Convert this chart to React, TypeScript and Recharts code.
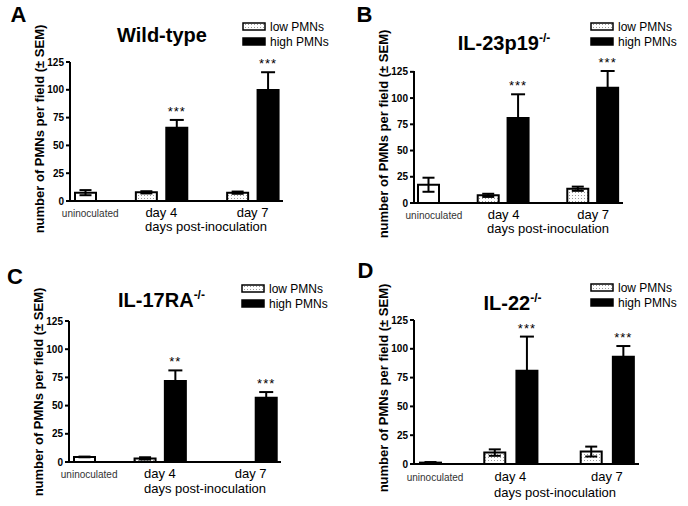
import React from 'react';
import { BarChart, Bar, XAxis, YAxis, ErrorBar, Cell, LabelList } from 'recharts';

const groups = ['uninoculated', 'day 4', 'day 7'];
const yTicks = [0, 25, 50, 75, 100, 125];

// A - wild-type
const wtLow = [7.5, 7.8, 7.5];
const wtLowErr = [2.3, 1, 1];
const wtHigh = [null, 65.9, 99.8];
const wtHighErr = [null, 7, 16];
const wtSig = ['', '***', '***'];

// B - IL-23p19 -/-
const il23Low = [17.4, 7.3, 13.6];
const il23LowErr = [6.7, 1.5, 2];
const il23High = [null, 80.9, 109.8];
const il23HighErr = [null, 22.7, 16];
const il23Sig = ['', '***', '***'];

// C - IL-17RA -/-
const il17Low = [4.5, 3.2, null];
const il17LowErr = [0.3, 1, null];
const il17High = [null, 71.8, 57];
const il17HighErr = [null, 9.4, 5];
const il17Sig = ['', '**', '***'];

// D - IL-22 -/-
const il22Low = [1.2, 9.9, 10.8];
const il22LowErr = [0.5, 2.8, 4.3];
const il22High = [null, 81, 93.2];
const il22HighErr = [null, 29.6, 9.2];
const il22Sig = ['', '***', '***'];

const FONT = '"Liberation Sans", Arial, sans-serif';

// one slot per column, with empty slots between the groups
function buildSlots(low, lowErr, high, highErr, sig) {
  const rows = [];
  groups.forEach((g, i) => {
    if (i > 0) rows.push({ slot: 'gap' + i });
    rows.push({ slot: g + ' low', uninoc: i === 0, low: low[i], lowErr: lowErr[i] });
    if (i > 0) {
      rows.push({
        slot: g + ' high',
        high: high[i],
        highErr: highErr[i],
        star: sig[i] ? high[i] + highErr[i] : null,
        sig: sig[i],
      });
    }
  });
  return rows;
}

const panels = [
  {
    id: 'a', letter: 'A', title: 'Wild-type', sup: '', left: 0, top: 0,
    margin: { top: 62, right: 61, bottom: 22, left: 20 },
    rows: buildSlots(wtLow, wtLowErr, wtHigh, wtHighErr, wtSig),
    tickDy: 11,
    letterPos: [18.5, 14.5], titlePos: [162, 35], legendPos: [242, 22],
    yLabelPos: [39, 129], xLabelPos: [206, 226],
  },
  {
    id: 'b', letter: 'B', title: 'IL-23p19', sup: '-/-', left: 344, top: 0,
    margin: { top: 71, right: 65, bottom: 20, left: 20 },
    rows: buildSlots(il23Low, il23LowErr, il23High, il23HighErr, il23Sig),
    tickDy: 11,
    letterPos: [20.5, 14.5], titlePos: [160, 43], legendPos: [246, 21.5],
    yLabelPos: [39, 133.5], xLabelPos: [204, 228],
  },
  {
    id: 'c', letter: 'C', title: 'IL-17RA', sup: '-/-', left: 0, top: 253,
    margin: { top: 68, right: 63, bottom: 14, left: 19 },
    rows: buildSlots(il17Low, il17LowErr, il17High, il17HighErr, il17Sig),
    tickDy: 11,
    letterPos: [15, 23.5], titlePos: [161.5, 46.7], legendPos: [241, 30.5],
    yLabelPos: [38, 139], xLabelPos: [205, 234.5],
  },
  {
    id: 'd', letter: 'D', title: 'IL-22', sup: '-/-', left: 344, top: 253,
    margin: { top: 67, right: 49, bottom: 12, left: 20 },
    rows: buildSlots(il22Low, il22LowErr, il22High, il22HighErr, il22Sig),
    tickDy: 12.5,
    letterPos: [21.5, 17.5], titlePos: [168.5, 50], legendPos: [246, 29.5],
    yLabelPos: [39, 135], xLabelPos: [211, 238.5],
  },
];

const W = 344;
const H = 253;
const Y_AXIS_W = 50;

function Dots({ id }) {
  return (
    <pattern id={id} width="3" height="3" patternUnits="userSpaceOnUse">
      <rect width="3" height="3" fill="#fff" />
      <rect width="1" height="1" fill="#9a9a9a" />
    </pattern>
  );
}

function centered(x, y, extra = {}) {
  return {
    position: 'absolute',
    left: x,
    top: y,
    transform: 'translate(-50%, -50%)',
    whiteSpace: 'nowrap',
    lineHeight: 1,
    fontFamily: FONT,
    color: '#000',
    ...extra,
  };
}

function Panel({ p }) {
  const plotW = W - p.margin.left - Y_AXIS_W - p.margin.right;
  const plotBottom = H - p.margin.bottom - 30;
  const band = plotW / p.rows.length;

  const renderTick = (props) => {
    const { x, payload } = props;
    const v = payload.value;
    if (v === 'uninoculated low') {
      return (
        <text x={x + 5} y={plotBottom + p.tickDy + 1} textAnchor="middle" dominantBaseline="central" fontSize={10} fill="#333" fontFamily={FONT}>
          uninoculated
        </text>
      );
    }
    if (v.endsWith(' low')) {
      return (
        <text x={x + band / 2} y={plotBottom + p.tickDy} textAnchor="middle" dominantBaseline="central" fontSize={13} fill="#000" fontFamily={FONT}>
          {v.replace(' low', '')}
        </text>
      );
    }
    return <g />;
  };

  const renderStar = (props) => {
    const { x, y, width, value } = props;
    if (!value) return null;
    return (
      <text x={x + width / 2} y={y - 4} textAnchor="middle" fontSize={13} letterSpacing={1} fill="#000" fontFamily={FONT}>
        {value}
      </text>
    );
  };

  return (
    <div style={{ position: 'absolute', left: p.left, top: p.top, width: W, height: H }}>
      <BarChart width={W} height={H} data={p.rows} margin={p.margin}>
        <defs>
          <Dots id={'dots-' + p.id} />
        </defs>
        <XAxis
          dataKey="slot"
          height={30}
          axisLine={{ stroke: '#000', strokeWidth: 2 }}
          tickLine={false}
          tickSize={0}
          tick={renderTick}
          interval={0}
        />
        <XAxis xAxisId="h" dataKey="slot" hide />
        <XAxis xAxisId="s" dataKey="slot" hide />
        <YAxis
          width={Y_AXIS_W}
          domain={[0, 125]}
          ticks={yTicks}
          interval={0}
          axisLine={{ stroke: '#000', strokeWidth: 2 }}
          tickLine={{ stroke: '#000', strokeWidth: 2 }}
          tickSize={4}
          tickMargin={2}
          tick={{ fontSize: 10, fontWeight: 'bold', fill: '#000', fontFamily: FONT }}
        />
        <Bar dataKey="low" barSize={21} stroke="#000" strokeWidth={2} isAnimationActive={false}>
          {p.rows.map((r, i) => (
            <Cell key={i} fill={r.uninoc ? '#fff' : `url(#dots-${p.id})`} />
          ))}
          <ErrorBar dataKey="lowErr" width={6} stroke="#000" strokeWidth={2} direction="y" />
        </Bar>
        <Bar xAxisId="h" dataKey="high" barSize={21} fill="#000" stroke="#000" strokeWidth={2} isAnimationActive={false}>
          <ErrorBar dataKey="highErr" width={7} stroke="#000" strokeWidth={2} direction="y" />
        </Bar>
        <Bar xAxisId="s" dataKey="star" barSize={21} fill="none" stroke="none" isAnimationActive={false}>
          <LabelList dataKey="sig" content={renderStar} />
        </Bar>
      </BarChart>

      <div style={centered(p.letterPos[0], p.letterPos[1], { fontSize: 22, fontWeight: 'bold' })}>{p.letter}</div>
      <div style={centered(p.titlePos[0], p.titlePos[1], { fontSize: 20, fontWeight: 'bold' })}>
        {p.title}
        {p.sup && <span style={{ fontSize: 12, position: 'relative', top: -8 }}>{p.sup}</span>}
      </div>
      <div style={centered(p.yLabelPos[0], p.yLabelPos[1], { fontSize: 13, fontWeight: 'bold', transform: 'translate(-50%, -50%) rotate(-90deg)' })}>
        number of PMNs per field (± SEM)
      </div>
      <div style={centered(p.xLabelPos[0], p.xLabelPos[1], { fontSize: 13 })}>days post-inoculation</div>

      <svg width={100} height={28} style={{ position: 'absolute', left: p.legendPos[0], top: p.legendPos[1] - 1, overflow: 'visible' }}>
        <defs>
          <Dots id={'leg-' + p.id} />
        </defs>
        <rect x={1} y={2} width={22} height={7} fill={`url(#leg-${p.id})`} stroke="#000" strokeWidth={1.5} />
        <text x={28} y={6} dominantBaseline="central" fontSize={12} fontFamily={FONT}>low PMNs</text>
        <rect x={1} y={17} width={22} height={7} fill="#000" stroke="#000" strokeWidth={1.5} />
        <text x={28} y={21} dominantBaseline="central" fontSize={12} fontFamily={FONT}>high PMNs</text>
      </svg>
    </div>
  );
}

export default function App() {
  return (
    <div style={{ position: 'absolute', left: 0, top: 0, width: 688, height: 506, background: '#fff', overflow: 'hidden' }}>
      {panels.map((p) => (
        <Panel key={p.id} p={p} />
      ))}
    </div>
  );
}
